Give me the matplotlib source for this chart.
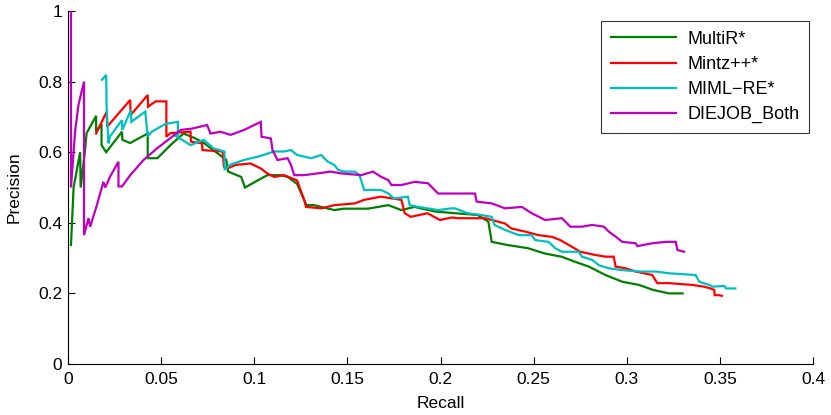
import matplotlib
matplotlib.use("Agg")
import matplotlib.pyplot as plt

plt.rcParams['font.family'] = ['Liberation Sans', 'DejaVu Sans']

multir_r = [0.0016, 0.0030, 0.0065, 0.0068, 0.0090, 0.0100, 0.0151, 0.0151, 0.0180, 0.0180,
            0.0205, 0.0290, 0.0292, 0.0334, 0.0428, 0.0428, 0.0480, 0.0550, 0.0620, 0.0680,
            0.0730, 0.0780, 0.0850, 0.0860, 0.0930, 0.0950, 0.1070, 0.1140, 0.1180, 0.1230,
            0.1280, 0.1320, 0.1430, 0.1480, 0.1610, 0.1720, 0.1790, 0.1860, 0.1970, 0.2060,
            0.2200, 0.2257, 0.2275, 0.2360, 0.2470, 0.2560, 0.2650, 0.2720, 0.2796, 0.2886,
            0.2976, 0.3066, 0.3140, 0.3227, 0.3300]
multir_p = [0.337, 0.500, 0.600, 0.500, 0.600, 0.654, 0.703, 0.658, 0.680, 0.620,
            0.600, 0.658, 0.635, 0.626, 0.653, 0.583, 0.583, 0.620, 0.653, 0.640,
            0.626, 0.606, 0.578, 0.545, 0.530, 0.500, 0.535, 0.535, 0.530, 0.510,
            0.450, 0.450, 0.436, 0.440, 0.440, 0.450, 0.436, 0.445, 0.432, 0.428,
            0.422, 0.403, 0.346, 0.337, 0.328, 0.313, 0.304, 0.290, 0.276, 0.252,
            0.233, 0.224, 0.210, 0.200, 0.200]

mintz_r = [0.0151, 0.0208, 0.0210, 0.0334, 0.0336, 0.0428, 0.0430, 0.0470, 0.0528, 0.0528,
           0.0550, 0.0658, 0.0660, 0.0720, 0.0722, 0.0830, 0.0837, 0.0855, 0.0900, 0.0980,
           0.1035, 0.1070, 0.1107, 0.1160, 0.1230, 0.1268, 0.1278, 0.1360, 0.1430, 0.1540,
           0.1590, 0.1680, 0.1790, 0.1808, 0.1840, 0.1930, 0.1997, 0.2060, 0.2095, 0.2240,
           0.2275, 0.2346, 0.2380, 0.2455, 0.2527, 0.2600, 0.2643, 0.2706, 0.2750, 0.2830,
           0.2886, 0.2930, 0.2940, 0.2994, 0.3048, 0.3137, 0.3164, 0.3227, 0.3353, 0.3416,
           0.3450, 0.3470, 0.3472, 0.3496, 0.3510]
mintz_p = [0.653, 0.715, 0.672, 0.748, 0.705, 0.762, 0.729, 0.744, 0.744, 0.644,
           0.654, 0.658, 0.630, 0.625, 0.606, 0.602, 0.559, 0.554, 0.564, 0.568,
           0.554, 0.540, 0.530, 0.535, 0.520, 0.465, 0.445, 0.441, 0.450, 0.455,
           0.465, 0.474, 0.465, 0.427, 0.417, 0.427, 0.408, 0.415, 0.413, 0.413,
           0.408, 0.398, 0.384, 0.375, 0.365, 0.360, 0.351, 0.332, 0.318, 0.309,
           0.304, 0.304, 0.276, 0.271, 0.262, 0.252, 0.229, 0.229, 0.224, 0.219,
           0.214, 0.210, 0.195, 0.195, 0.193]

miml_r = [0.0182, 0.0205, 0.0207, 0.0217, 0.0217, 0.0226, 0.0290, 0.0292, 0.0338, 0.0340,
          0.0415, 0.0428, 0.0450, 0.0523, 0.0590, 0.0590, 0.0568, 0.0613, 0.0658, 0.0730,
          0.0780, 0.0840, 0.0841, 0.0870, 0.0945, 0.1017, 0.1107, 0.1160, 0.1197, 0.1230,
          0.1305, 0.1360, 0.1395, 0.1430, 0.1450, 0.1484, 0.1540, 0.1565, 0.1590, 0.1680,
          0.1720, 0.1750, 0.1825, 0.1835, 0.1880, 0.1930, 0.1987, 0.2060, 0.2077, 0.2147,
          0.2220, 0.2275, 0.2290, 0.2346, 0.2420, 0.2490, 0.2508, 0.2580, 0.2616, 0.2652,
          0.2742, 0.2760, 0.2814, 0.2850, 0.2904, 0.2976, 0.3066, 0.3155, 0.3227, 0.3370,
          0.3389, 0.3443, 0.3460, 0.3524, 0.3533, 0.3583]
miml_p = [0.805, 0.819, 0.734, 0.625, 0.625, 0.645, 0.691, 0.663, 0.720, 0.686,
          0.715, 0.644, 0.658, 0.680, 0.686, 0.649, 0.649, 0.635, 0.620, 0.635,
          0.611, 0.602, 0.550, 0.564, 0.578, 0.587, 0.602, 0.602, 0.606, 0.592,
          0.583, 0.592, 0.573, 0.564, 0.550, 0.545, 0.545, 0.535, 0.493, 0.493,
          0.483, 0.469, 0.474, 0.450, 0.445, 0.441, 0.436, 0.441, 0.441, 0.427,
          0.422, 0.417, 0.394, 0.380, 0.365, 0.365, 0.351, 0.346, 0.328, 0.318,
          0.318, 0.304, 0.295, 0.280, 0.271, 0.266, 0.262, 0.262, 0.257, 0.252,
          0.233, 0.224, 0.219, 0.221, 0.214, 0.214]

diejob_r = [0.0016, 0.0016, 0.0038, 0.0056, 0.0086, 0.0086, 0.0110, 0.0119, 0.0155, 0.0190,
            0.0200, 0.0226, 0.0271, 0.0271, 0.0290, 0.0334, 0.0406, 0.0478, 0.0550, 0.0604,
            0.0667, 0.0747, 0.0765, 0.0819, 0.0873, 0.0945, 0.1035, 0.1039, 0.1089, 0.1098,
            0.1125, 0.1179, 0.1197, 0.1215, 0.1268, 0.1340, 0.1410, 0.1466, 0.1574, 0.1637,
            0.1682, 0.1720, 0.1736, 0.1790, 0.1861, 0.1933, 0.1987, 0.2040, 0.2185, 0.2194,
            0.2275, 0.2346, 0.2437, 0.2490, 0.2562, 0.2652, 0.2697, 0.2760, 0.2814, 0.2877,
            0.2904, 0.2940, 0.2976, 0.3048, 0.3057, 0.3137, 0.3209, 0.3263, 0.3272, 0.3308]
diejob_p = [0.998, 0.500, 0.658, 0.734, 0.800, 0.365, 0.413, 0.389, 0.450, 0.516,
            0.500, 0.531, 0.573, 0.503, 0.503, 0.535, 0.578, 0.611, 0.640, 0.663,
            0.667, 0.677, 0.653, 0.658, 0.649, 0.663, 0.686, 0.644, 0.639, 0.606,
            0.578, 0.583, 0.564, 0.535, 0.535, 0.540, 0.545, 0.540, 0.535, 0.545,
            0.530, 0.521, 0.507, 0.507, 0.516, 0.512, 0.483, 0.483, 0.483, 0.460,
            0.455, 0.441, 0.445, 0.427, 0.408, 0.413, 0.389, 0.389, 0.394, 0.389,
            0.375, 0.361, 0.346, 0.342, 0.334, 0.342, 0.346, 0.346, 0.323, 0.318]

series_names = ["MultiR*", "Mintz++*", "MIML\u2212RE*", "DIEJOB_Both"]
x_ticks = [0, 0.05, 0.1, 0.15, 0.2, 0.25, 0.3, 0.35, 0.4]
x_tick_labels = ["0", "0.05", "0.1", "0.15", "0.2", "0.25", "0.3", "0.35", "0.4"]
y_ticks = [0, 0.2, 0.4, 0.6, 0.8, 1.0]
y_tick_labels = ["0", "0.2", "0.4", "0.6", "0.8", "1"]

fig = plt.figure(figsize=(8.31, 4.15), dpi=100)
ax = fig.add_axes([68/831, 51/415, (813-68)/831, (364-11)/415])

colors = ["#008000", "#ff0000", "#00bfbf", "#bf00bf"]
data = [(multir_r, multir_p), (mintz_r, mintz_p), (miml_r, miml_p), (diejob_r, diejob_p)]
for (r, p), c, name in zip(data, colors, series_names):
    ax.plot(r, p, color=c, lw=1.6, label=name, solid_joinstyle='miter')

ax.set_xlim(0, 0.4)
ax.set_ylim(0, 1)
ax.set_xticks(x_ticks)
ax.set_xticklabels(x_tick_labels)
ax.set_yticks(y_ticks)
ax.set_yticklabels(y_tick_labels)
ax.spines['top'].set_visible(False)
ax.spines['right'].set_visible(False)
for s in ['left', 'bottom']:
    ax.spines[s].set_linewidth(0.8)
ax.tick_params(direction='in', length=5, width=0.8, labelsize=12.5)
ax.tick_params(axis='x', pad=6)
ax.tick_params(axis='y', pad=4)
ax.set_xlabel("Recall", fontsize=12.5, labelpad=6)
ax.set_ylabel("Precision", fontsize=12.5, labelpad=12)

leg = ax.legend(loc='upper right', bbox_to_anchor=(0.995, 0.972), borderaxespad=0,
                fontsize=13, frameon=True, fancybox=False, edgecolor='black',
                handlelength=3.6, borderpad=0.55, labelspacing=0.45, handletextpad=0.6)
leg.get_frame().set_linewidth(0.8)

fig.savefig("out.png", dpi=100)
